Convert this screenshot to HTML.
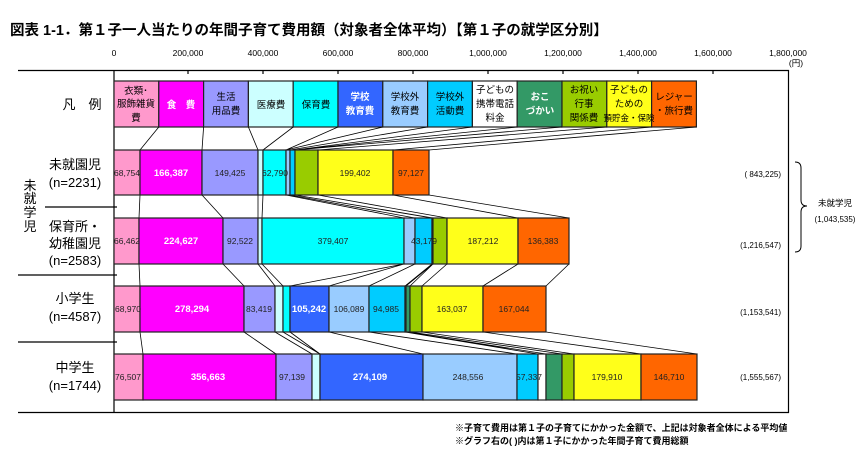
<!DOCTYPE html>
<html><head><meta charset="utf-8"><style>
html,body{margin:0;padding:0;background:#fff;}
svg{display:block;font-family:"Liberation Sans","Noto Sans CJK JP",sans-serif;}
</style></head><body>
<svg width="860" height="460" viewBox="0 0 860 460" xmlns="http://www.w3.org/2000/svg">
<text x="10" y="35" font-size="14.5" font-weight="bold" fill="#000">図表 1-1．第１子一人当たりの年間子育て費用額（対象者全体平均）【第１子の就学区分別】</text>
<g font-size="8.5" text-anchor="middle" fill="#000">
<text x="114" y="56">0</text><text x="188" y="56">200,000</text><text x="263" y="56">400,000</text><text x="338" y="56">600,000</text><text x="413" y="56">800,000</text><text x="488" y="56">1,000,000</text><text x="563" y="56">1,200,000</text><text x="638" y="56">1,400,000</text><text x="713" y="56">1,600,000</text><text x="788" y="56">1,800,000</text><text x="796" y="66">(円)</text>
</g>
<g stroke="#000" stroke-width="1.2" fill="none">
<line x1="18" y1="70.5" x2="789" y2="70.5"/>
<line x1="114" y1="70" x2="114" y2="413"/>
<line x1="788.5" y1="70" x2="788.5" y2="413"/>
<line x1="18" y1="412.5" x2="789" y2="412.5"/>
<line x1="45" y1="207" x2="117" y2="207"/>
<line x1="18" y1="275" x2="117" y2="275"/>
<line x1="18" y1="342" x2="117" y2="342"/>
<path d="M188 70v4M263 70v4M338 70v4M413 70v4M488 70v4M563 70v4M638 70v4M713 70v4"/>
</g>
<!-- legend boxes -->
<g stroke="#222" stroke-width="1.2">
<rect x="114" y="81" width="44.8" height="46" fill="#ff99cc"/>
<rect x="158.8" y="81" width="44.8" height="46" fill="#ff00ff"/>
<rect x="203.6" y="81" width="44.8" height="46" fill="#9999ff"/>
<rect x="248.4" y="81" width="44.8" height="46" fill="#ccffff"/>
<rect x="293.2" y="81" width="44.8" height="46" fill="#00ffff"/>
<rect x="338" y="81" width="44.8" height="46" fill="#3366ff"/>
<rect x="382.8" y="81" width="44.8" height="46" fill="#99ccff"/>
<rect x="427.6" y="81" width="44.8" height="46" fill="#00ccff"/>
<rect x="472.4" y="81" width="44.8" height="46" fill="#ffffff"/>
<rect x="517.2" y="81" width="44.8" height="46" fill="#339966"/>
<rect x="562" y="81" width="44.8" height="46" fill="#99cc00"/>
<rect x="606.8" y="81" width="44.8" height="46" fill="#ffff1a"/>
<rect x="651.6" y="81" width="44.8" height="46" fill="#ff6600"/>
</g>
<g font-size="9.5" text-anchor="middle" fill="#000">
<text x="136" y="94">衣類･</text><text x="136" y="107">服飾雑貨</text><text x="136" y="121">費</text>
<text x="181" y="108" fill="#fff" font-weight="bold">食　費</text>
<text x="226" y="100">生活</text><text x="226" y="114">用品費</text>
<text x="271" y="108">医療費</text>
<text x="316" y="108">保育費</text>
<text x="360" y="100" fill="#fff" font-weight="bold">学校</text><text x="360" y="114" fill="#fff" font-weight="bold">教育費</text>
<text x="405" y="100">学校外</text><text x="405" y="114">教育費</text>
<text x="450" y="100">学校外</text><text x="450" y="114">活動費</text>
<text x="495" y="93">子どもの</text><text x="495" y="107">携帯電話</text><text x="495" y="121">料金</text>
<text x="540" y="100" fill="#fff" font-weight="bold">おこ</text><text x="540" y="114" fill="#fff" font-weight="bold">づかい</text>
<text x="584" y="93">お祝い</text><text x="584" y="107">行事</text><text x="584" y="121">関係費</text>
<text x="629" y="93">子どもの</text><text x="629" y="107">ための</text><text x="629" y="121" font-size="8.5">預貯金・保険</text>
<text x="674" y="100">レジャー</text><text x="674" y="114">・旅行費</text>
</g>
<!-- connectors -->
<g stroke="#000" stroke-width="0.8" fill="none">
<path d="M158.8 127L140 150M203.6 127L202 150M248.4 127L258 150M293.2 127L263 150M338 127L286 150M382.8 127L286 150M427.6 127L290 150M472.4 127L295 150M517.2 127L295 150M562 127L295 150M606.8 127L318 150M651.6 127L393 150M696.4 127L429 150"/>
<path d="M140 195L139 218M202 195L223 218M258 195L258 218M263 195L262 218M286 195L404 218M286 195L404 218M290 195L415 218M295 195L432 218M295 195L433 218M295 195L433 218M318 195L447 218M393 195L518 218M429 195L569 218"/>
<path d="M139 264L140 286M223 264L244 286M258 264L275 286M262 264L283 286M404 264L290 286M404 264L329 286M415 264L369 286M432 264L405 286M433 264L406 286M433 264L410 286M447 264L422 286M518 264L483 286M569 264L546 286"/>
<path d="M140 332L143 354M244 332L276 354M275 332L312 354M283 332L320 354M290 332L320 354M329 332L423 354M369 332L517 354M405 332L538 354M406 332L546 354M410 332L562 354M422 332L574 354M483 332L641 354M546 332L697 354"/>
</g>
<!-- bars -->
<g stroke="#222" stroke-width="1.2">
<rect x="114" y="150" width="26" height="45" fill="#ff99cc"/>
<rect x="140" y="150" width="62" height="45" fill="#ff00ff"/>
<rect x="202" y="150" width="56" height="45" fill="#9999ff"/>
<rect x="258" y="150" width="5" height="45" fill="#ccffff"/>
<rect x="263" y="150" width="23" height="45" fill="#00ffff"/>
<rect x="286" y="150" width="4" height="45" fill="#99ccff"/>
<rect x="290" y="150" width="5" height="45" fill="#00ccff"/>
<rect x="295" y="150" width="23" height="45" fill="#99cc00"/>
<rect x="318" y="150" width="75" height="45" fill="#ffff1a"/>
<rect x="393" y="150" width="36" height="45" fill="#ff6600"/>

<rect x="114" y="218" width="25" height="46" fill="#ff99cc"/>
<rect x="139" y="218" width="84" height="46" fill="#ff00ff"/>
<rect x="223" y="218" width="35" height="46" fill="#9999ff"/>
<rect x="258" y="218" width="4" height="46" fill="#ccffff"/>
<rect x="262" y="218" width="142" height="46" fill="#00ffff"/>
<rect x="404" y="218" width="11" height="46" fill="#99ccff"/>
<rect x="415" y="218" width="17" height="46" fill="#00ccff"/>
<rect x="432" y="218" width="1" height="46" fill="#339966"/>
<rect x="433" y="218" width="14" height="46" fill="#99cc00"/>
<rect x="447" y="218" width="71" height="46" fill="#ffff1a"/>
<rect x="518" y="218" width="51" height="46" fill="#ff6600"/>

<rect x="114" y="286" width="26" height="46" fill="#ff99cc"/>
<rect x="140" y="286" width="104" height="46" fill="#ff00ff"/>
<rect x="244" y="286" width="31" height="46" fill="#9999ff"/>
<rect x="275" y="286" width="8" height="46" fill="#ccffff"/>
<rect x="283" y="286" width="7" height="46" fill="#00ffff"/>
<rect x="290" y="286" width="39" height="46" fill="#3366ff"/>
<rect x="329" y="286" width="40" height="46" fill="#99ccff"/>
<rect x="369" y="286" width="36" height="46" fill="#00ccff"/>
<rect x="405" y="286" width="1" height="46" fill="#ffffff"/>
<rect x="406" y="286" width="4" height="46" fill="#339966"/>
<rect x="410" y="286" width="12" height="46" fill="#99cc00"/>
<rect x="422" y="286" width="61" height="46" fill="#ffff1a"/>
<rect x="483" y="286" width="63" height="46" fill="#ff6600"/>

<rect x="114" y="354" width="29" height="46" fill="#ff99cc"/>
<rect x="143" y="354" width="133" height="46" fill="#ff00ff"/>
<rect x="276" y="354" width="36" height="46" fill="#9999ff"/>
<rect x="312" y="354" width="8" height="46" fill="#ccffff"/>
<rect x="320" y="354" width="103" height="46" fill="#3366ff"/>
<rect x="423" y="354" width="94" height="46" fill="#99ccff"/>
<rect x="517" y="354" width="21" height="46" fill="#00ccff"/>
<rect x="538" y="354" width="8" height="46" fill="#ffffff"/>
<rect x="546" y="354" width="16" height="46" fill="#339966"/>
<rect x="562" y="354" width="12" height="46" fill="#99cc00"/>
<rect x="574" y="354" width="67" height="46" fill="#ffff1a"/>
<rect x="641" y="354" width="56" height="46" fill="#ff6600"/>
</g>
<g font-size="8.5" fill="#222" text-anchor="middle">
<text x="127" y="176">68,754</text><text x="171" y="176" fill="#fff" font-weight="bold" font-size="9.5">166,387</text><text x="230" y="176">149,425</text><text x="275" y="176">62,790</text><text x="355" y="176">199,402</text><text x="411" y="176">97,127</text>
<text x="127" y="244">66,462</text><text x="181" y="244" fill="#fff" font-weight="bold" font-size="9.5">224,627</text><text x="240" y="244">92,522</text><text x="333" y="244">379,407</text><text x="424" y="244">43,179</text><text x="483" y="244">187,212</text><text x="543" y="244">136,383</text>
<text x="128" y="312">68,970</text><text x="192" y="312" fill="#fff" font-weight="bold" font-size="9.5">278,294</text><text x="259" y="312">83,419</text><text x="309" y="312" fill="#fff" font-weight="bold" font-size="9.5">105,242</text><text x="349" y="312">106,089</text><text x="386" y="312">94,985</text><text x="452" y="312">163,037</text><text x="514" y="312">167,044</text>
<text x="128" y="380">76,507</text><text x="208" y="380" fill="#fff" font-weight="bold" font-size="9.5">356,663</text><text x="292" y="380">97,139</text><text x="370" y="380" fill="#fff" font-weight="bold" font-size="9.5">274,109</text><text x="468" y="380">248,556</text><text x="529" y="380">57,337</text><text x="607" y="380">179,910</text><text x="669" y="380">146,710</text>
</g>
<!-- left labels -->
<g font-size="13" text-anchor="middle" fill="#000">
<text x="82" y="109">凡　例</text>
<text x="75" y="169">未就園児</text><text x="75" y="187">(n=2231)</text>
<text x="75" y="231">保育所・</text><text x="75" y="248">幼稚園児</text><text x="75" y="265">(n=2583)</text>
<text x="75" y="303">小学生</text><text x="75" y="321">(n=4587)</text>
<text x="75" y="372">中学生</text><text x="75" y="390">(n=1744)</text>
<text x="30" y="190">未</text><text x="30" y="203">就</text><text x="30" y="217">学</text><text x="30" y="231">児</text>
</g>
<!-- totals -->
<g font-size="8" fill="#000" text-anchor="end">
<text x="781" y="177">(  843,225)</text>
<text x="781" y="248">(1,216,547)</text>
<text x="781" y="315">(1,153,541)</text>
<text x="781" y="380">(1,555,567)</text>
</g>
<path d="M795 162 Q801 162 801 168 L801 200 Q801 206 807 206 Q801 206 801 212 L801 246 Q801 252 795 252" stroke="#000" stroke-width="1" fill="none"/>
<text x="835" y="206" font-size="8.5" text-anchor="middle">未就学児</text>
<text x="835" y="222" font-size="8" text-anchor="middle">(1,043,535)</text>
<g font-size="9" font-weight="bold" fill="#000">
<text x="455" y="431">※子育て費用は第１子の子育てにかかった金額で、上記は対象者全体による平均値</text>
<text x="455" y="444">※グラフ右の(  )内は第１子にかかった年間子育て費用総額</text>
</g>
</svg>
</body></html>
